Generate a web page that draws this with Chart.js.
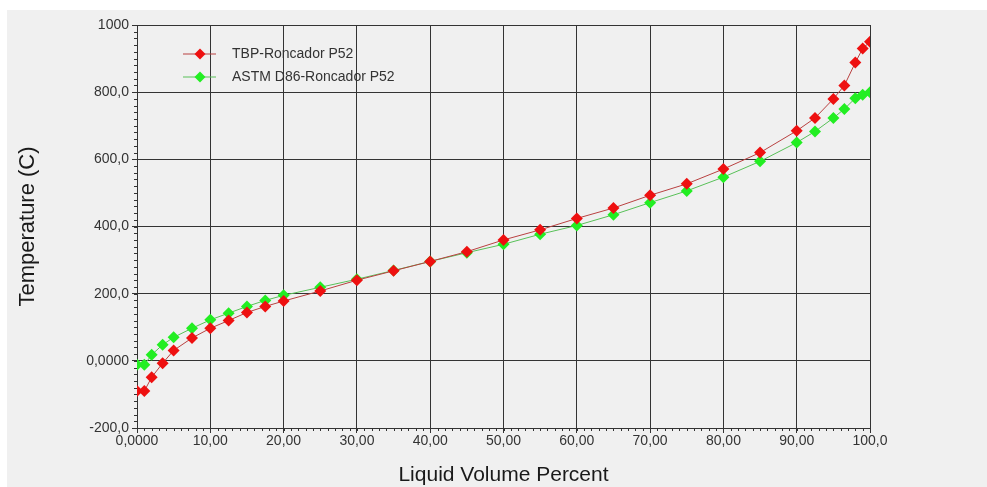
<!DOCTYPE html>
<html>
<head>
<meta charset="utf-8">
<script src="https://cdn.jsdelivr.net/npm/chart.js@4.4.1/dist/chart.umd.min.js"></script>
<style>
  html, body { margin: 0; padding: 0; background: #fff; }
  #wrap { position: absolute; left: 7px; top: 10px; width: 980px; height: 477px; background: #f0f0f0; }
</style>
</head>
<body>
<div id="wrap"><canvas id="curvas"></canvas></div>
<script>
// Curvas de destilación: % volumen líquido vs temperatura
const volumen = [0, 1, 2, 3.5, 5, 7.5, 10, 12.5, 15, 17.5, 20, 25, 30, 35, 40, 45, 50, 55, 60, 65, 70, 75, 80, 85, 90, 92.5, 95, 96.5, 98, 99, 100];
const tbp = [-90, -90, -49, -7, 31, 68, 97, 120, 144, 162, 178, 208, 240, 268, 296, 325, 360, 390, 424, 455, 493, 527, 571, 620, 685, 723, 780, 820, 888, 930, 950];
const astmD86 = [-12, -12, 18, 48, 70, 97, 122, 142, 162, 180, 195, 219, 243, 269, 296, 322, 347, 377, 403, 435, 471, 506, 547, 594, 650, 683, 723, 750, 782, 792, 800];

const etiquetasX = ['0,0000', '10,00', '20,00', '30,00', '40,00', '50,00', '60,00', '70,00', '80,00', '90,00', '100,0'];
const etiquetasY = ['-200,0', '0,0000', '200,0', '400,0', '600,0', '800,0', '1000'];

const fuente = 'Arial, "Liberation Sans", sans-serif';

// marcas menores en los ejes
const marcasMenores = {
  id: 'marcasMenores',
  afterDraw(chart) {
    const { ctx, chartArea, scales: { x, y } } = chart;
    ctx.save();
    ctx.strokeStyle = '#333';
    ctx.lineWidth = 1;
    ctx.beginPath();
    for (let v = 0; v <= 100; v += 1) {
      const px = Math.round(x.getPixelForValue(v)) + 0.5;
      ctx.moveTo(px, chartArea.bottom);
      ctx.lineTo(px, chartArea.bottom + 3);
    }
    for (let v = -200; v <= 1000; v += 20) {
      const py = Math.round(y.getPixelForValue(v)) + 0.5;
      ctx.moveTo(chartArea.left, py);
      ctx.lineTo(chartArea.left - 3, py);
    }
    ctx.stroke();
    ctx.restore();
  }
};

// leyenda dentro del área de trazado
const leyenda = {
  id: 'leyenda',
  afterDraw(chart) {
    const { ctx } = chart;
    ctx.save();
    chart.data.datasets.forEach((ds, i) => {
      const yy = 44 + i * 23;
      ctx.strokeStyle = ds.borderColor;
      ctx.lineWidth = 1;
      ctx.beginPath();
      ctx.moveTo(176, yy);
      ctx.lineTo(209, yy);
      ctx.stroke();
      ctx.fillStyle = ds.pointBackgroundColor;
      ctx.beginPath();
      ctx.moveTo(193, yy - 5.5);
      ctx.lineTo(198.5, yy);
      ctx.lineTo(193, yy + 5.5);
      ctx.lineTo(187.5, yy);
      ctx.closePath();
      ctx.fill();
      ctx.fillStyle = '#333';
      ctx.font = '14px ' + fuente;
      ctx.textBaseline = 'middle';
      ctx.fillText(ds.label, 225, yy);
    });
    ctx.restore();
  }
};

const ctx = document.getElementById('curvas').getContext('2d');
new Chart(ctx, {
  type: 'line',
  data: {
    datasets: [
      {
        label: 'TBP-Roncador P52',
        data: volumen.map((v, i) => ({ x: v, y: tbp[i] })),
        borderColor: '#b84040',
        borderWidth: 1,
        pointStyle: 'rectRot',
        pointRadius: 6,
        pointBackgroundColor: '#ee1010',
        pointBorderColor: '#ee1010',
        pointBorderWidth: 0
      },
      {
        label: 'ASTM D86-Roncador P52',
        data: volumen.map((v, i) => ({ x: v, y: astmD86[i] })),
        borderColor: '#58c058',
        borderWidth: 1,
        pointStyle: 'rectRot',
        pointRadius: 6,
        pointBackgroundColor: '#22ee22',
        pointBorderColor: '#22ee22',
        pointBorderWidth: 0
      }
    ]
  },
  options: {
    responsive: true,
    maintainAspectRatio: false,
    animation: false,
    layout: { padding: { left: 0, right: 117, top: 15, bottom: 0 } },
    plugins: {
      legend: { display: false },
      tooltip: { enabled: false }
    },
    scales: {
      x: {
        type: 'linear',
        min: 0,
        max: 100,
        afterFit(scale) { scale.height = 59; },
        grid: { color: '#333', lineWidth: 1, tickLength: 5, tickColor: '#333' },
        border: { color: '#333' },
        ticks: {
          stepSize: 10,
          padding: 0,
          color: '#333',
          font: { family: fuente, size: 14 },
          maxRotation: 0,
          callback: v => etiquetasX[Math.round(v / 10)]
        },
        title: {
          display: true,
          text: 'Liquid Volume Percent',
          color: '#1a1a1a',
          font: { family: fuente, size: 21 },
          padding: { top: 0, bottom: -1 }
        }
      },
      y: {
        min: -200,
        max: 1000,
        afterFit(scale) { scale.width = 130; },
        grid: { color: '#333', lineWidth: 1, tickLength: 5, tickColor: '#333' },
        border: { color: '#333' },
        ticks: {
          stepSize: 200,
          padding: 3,
          color: '#333',
          font: { family: fuente, size: 14 },
          callback: v => etiquetasY[Math.round((v + 200) / 200)]
        },
        title: {
          display: true,
          text: 'Temperature (C)',
          color: '#1a1a1a',
          font: { family: fuente, size: 22 },
          padding: { top: 8, bottom: 0 }
        }
      }
    }
  },
  plugins: [marcasMenores, leyenda]
});
</script>
</body>
</html>
